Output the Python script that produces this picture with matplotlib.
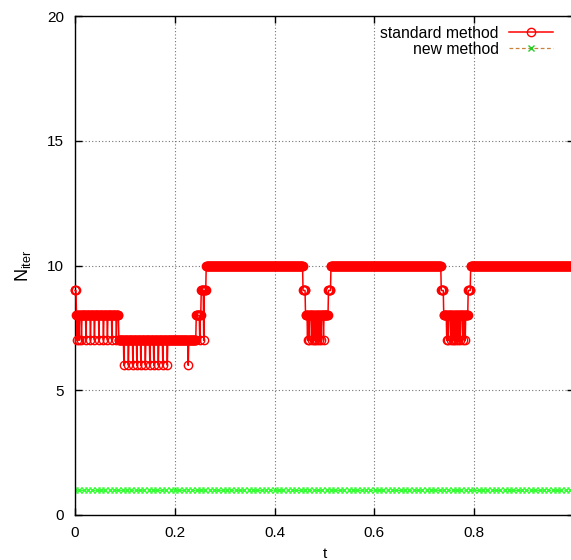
import numpy as np
import matplotlib
matplotlib.use("Agg")
import matplotlib.pyplot as plt
from matplotlib.lines import Line2D

plt.rcParams['font.family'] = ['Liberation Sans', 'DejaVu Sans']
plt.rcParams['mathtext.fontset'] = 'custom'
plt.rcParams['mathtext.rm'] = 'Liberation Sans'

# standard method: plateaus of N_iter (start t, end t, level)
plat_t0 = [0.000, 0.003, 0.088, 0.243, 0.253, 0.263, 0.457, 0.462, 0.508, 0.513, 0.734, 0.739, 0.788, 0.793]
plat_t1 = [0.003, 0.088, 0.243, 0.253, 0.263, 0.457, 0.462, 0.508, 0.513, 0.734, 0.739, 0.788, 0.793, 1.000]
plat_lv = [9, 8, 7, 8, 9, 10, 9, 8, 9, 10, 9, 8, 9, 10]

# single-step drops below the plateau
dip_t = [0.004, 0.008, 0.013, 0.022, 0.031, 0.039, 0.048, 0.057, 0.065, 0.074, 0.083,
         0.098, 0.107, 0.116, 0.124, 0.132, 0.141, 0.150, 0.158, 0.167, 0.176, 0.185, 0.227,
         0.250, 0.258,
         0.466, 0.469, 0.474, 0.478, 0.481, 0.485, 0.489, 0.493, 0.498,
         0.745, 0.748, 0.753, 0.757, 0.760, 0.764, 0.768, 0.772, 0.777, 0.782]
dip_lv = [7, 7, 7, 7, 7, 7, 7, 7, 7, 7, 7,
          6, 6, 6, 6, 6, 6, 6, 6, 6, 6, 6, 6,
          7, 7,
          7, 7, 7, 7, 7, 7, 7, 7, 7,
          7, 7, 7, 7, 7, 7, 7, 7, 7, 7]

std_dt = 0.001
new_dt = 0.0087
new_level = 1

t_std = np.round(np.arange(0, 1.0 + 1e-9, std_dt), 3)
n_std = np.zeros_like(t_std)
for a, b, lv in zip(plat_t0, plat_t1, plat_lv):
    n_std[(t_std >= a) & (t_std <= b)] = lv
for td, lv in zip(dip_t, dip_lv):
    n_std[np.argmin(np.abs(t_std - td))] = lv

t_new = np.arange(0, 1.0, new_dt)
n_new = np.full_like(t_new, new_level)

fig = plt.figure(figsize=(5.71, 5.60), dpi=100)
ax = fig.add_axes([75/571, 45/560, 499/571, 499/560])

ax.plot(t_std, n_std, color='red', lw=1.1, marker='o', ms=6, mfc='none',
        mec='red', mew=1.0, clip_on=False, zorder=3)
ax.plot(t_new, n_new, color='#33ff33', lw=0.8, ls=(0, (3, 2)), marker='x',
        ms=4.5, mew=1.0, zorder=2)

ax.set_xlim(0, 1)
ax.set_ylim(0, 20)
ax.set_xticks([0, 0.2, 0.4, 0.6, 0.8, 1.0])
ax.set_xticklabels(['0', '0.2', '0.4', '0.6', '0.8', ''])
ax.set_yticks([0, 5, 10, 15, 20])
ax.tick_params(direction='in', length=5, width=1, top=True, right=True,
               labelsize=11, pad=8)
for s in ax.spines.values():
    s.set_linewidth(1.0)
ax.grid(True, color='0.45', ls=(0, (1, 2)), lw=0.8)
ax.set_axisbelow(True)

ax.set_xlabel('t', fontsize=11, labelpad=5)
ax.set_ylabel(r'$\mathregular{N_{iter}}$', fontsize=13, labelpad=10)

h_std = Line2D([], [], color='red', lw=1.1, marker='o', ms=6, mfc='none', mec='red')
h_new = Line2D([], [], color='#c8823c', lw=0.9, ls=(0, (3, 2)), marker='x',
               ms=4.5, mec='#22cc22', mew=1.0)
ax.legend([h_std, h_new], ['standard method', 'new method'], loc='upper right',
          bbox_to_anchor=(0.958, 0.980), borderaxespad=0, borderpad=0,
          frameon=False, markerfirst=False, handlelength=2.8, handletextpad=0.65,
          labelspacing=0.05, fontsize=11.3)

fig.savefig('out.png', dpi=100)
